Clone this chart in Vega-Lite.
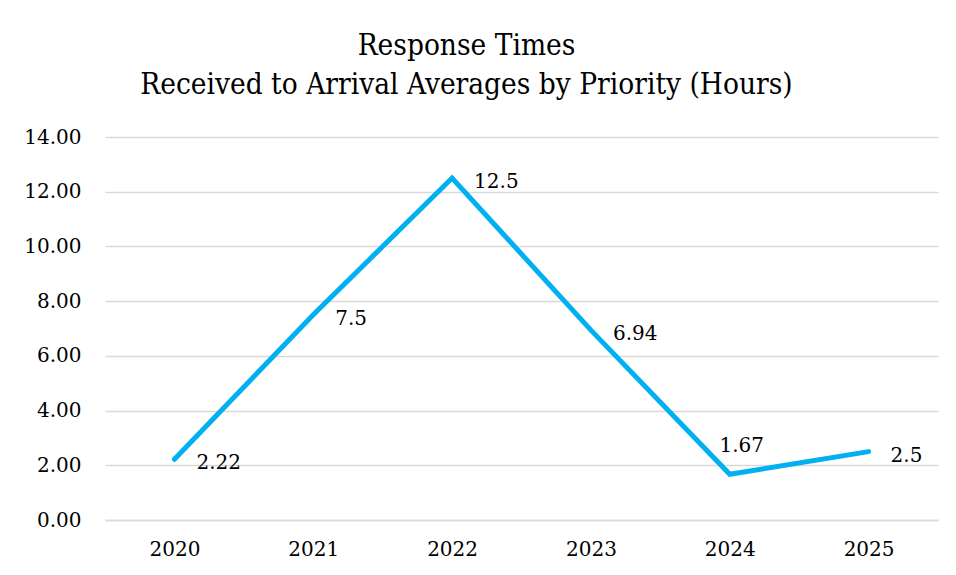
{
  "$schema": "https://vega.github.io/schema/vega-lite/v6.json",
  "autosize": "none",
  "width": 833,
  "height": 383,
  "padding": {"left": 105, "top": 137, "right": 18, "bottom": 55},
  "background": "white",
  "title": {
    "text": ["Response Times", "Received to Arrival Averages by Priority (Hours)"],
    "font": "DejaVu Serif Condensed",
    "fontSize": 29.5,
    "fontWeight": "normal",
    "color": "#000000",
    "anchor": "middle",
    "dx": -55,
    "offset": 27,
    "lineHeight": 39
  },
  "data": {
    "values": [
      {"year": "2020", "value": 2.22},
      {"year": "2021", "value": 7.5},
      {"year": "2022", "value": 12.5},
      {"year": "2023", "value": 6.94},
      {"year": "2024", "value": 1.67},
      {"year": "2025", "value": 2.5}
    ]
  },
  "encoding": {
    "x": {
      "field": "year",
      "type": "ordinal",
      "scale": {"type": "point", "padding": 0.5},
      "axis": {
        "title": null,
        "labelAngle": 0,
        "labelFont": "DejaVu Serif",
        "labelFontSize": 20,
        "labelColor": "#000000",
        "labelPadding": 19,
        "ticks": false,
        "domainColor": "#d9d9d9",
        "domainWidth": 1.5,
        "grid": false
      }
    },
    "y": {
      "field": "value",
      "type": "quantitative",
      "scale": {"domain": [0, 14], "nice": false},
      "axis": {
        "title": null,
        "values": [0, 2, 4, 6, 8, 10, 12, 14],
        "format": ".2f",
        "labelFont": "DejaVu Serif",
        "labelFontSize": 20,
        "labelColor": "#000000",
        "labelPadding": 24,
        "ticks": false,
        "domain": false,
        "gridColor": "#d9d9d9",
        "gridWidth": 1.5
      }
    }
  },
  "layer": [
    {
      "mark": {"type": "line", "color": "#00b0f0", "strokeWidth": 5, "strokeCap": "round", "strokeJoin": "miter"}
    },
    {
      "transform": [{"filter": "datum.year != '2024'"}],
      "mark": {"type": "text", "align": "left", "baseline": "middle", "dx": 22, "dy": 4, "font": "DejaVu Serif", "fontSize": 20, "color": "#000000"},
      "encoding": {"text": {"field": "value", "type": "quantitative"}}
    },
    {
      "transform": [{"filter": "datum.year == '2024'"}],
      "mark": {"type": "text", "align": "center", "baseline": "middle", "dx": 12, "dy": -28, "font": "DejaVu Serif", "fontSize": 20, "color": "#000000"},
      "encoding": {"text": {"field": "value", "type": "quantitative"}}
    }
  ],
  "config": {"view": {"stroke": null}}
}
